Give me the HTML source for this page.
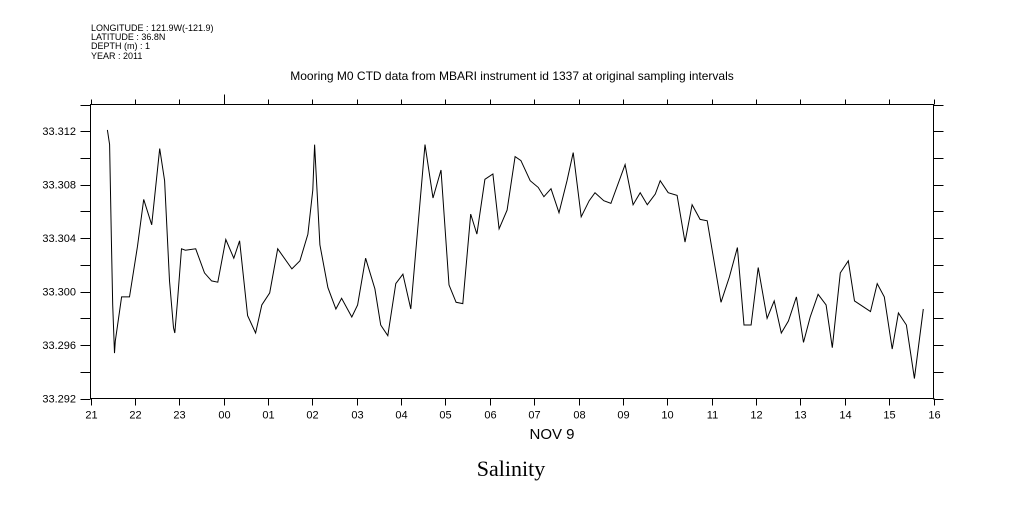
<!DOCTYPE html>
<html><head><meta charset="utf-8"><style>
body{margin:0;background:#fff;}
svg text{font-family:"Liberation Sans",sans-serif;fill:#000;}
</style></head><body>
<svg width="1009" height="504" xmlns="http://www.w3.org/2000/svg">
<g font-size="9">
<text x="91" y="31">LONGITUDE : 121.9W(-121.9)</text>
<text x="91" y="40">LATITUDE : 36.8N</text>
<text x="91" y="49">DEPTH (m) : 1</text>
<text x="91" y="59">YEAR : 2011</text>
</g>
<text x="512" y="80" font-size="12" text-anchor="middle">Mooring M0 CTD data from MBARI instrument id 1337 at original sampling intervals</text>
<g id="axes"></g>
<path id="line" fill="none" stroke="#000" stroke-width="1"/>
<text x="552" y="439" font-size="15" text-anchor="middle">NOV  9</text>
<text x="511" y="476" font-size="22" text-anchor="middle" style="font-family:'Liberation Serif',serif">Salinity</text>
</svg>
<script>
const hours=[0.38,0.43,0.47,0.50,0.54,0.56,0.70,0.88,1.06,1.20,1.38,1.56,1.67,1.78,1.87,1.90,1.96,2.05,2.14,2.37,2.57,2.73,2.87,3.05,3.23,3.36,3.54,3.72,3.86,4.04,4.22,4.54,4.72,4.90,5.01,5.05,5.17,5.35,5.53,5.66,5.89,6.02,6.20,6.41,6.54,6.70,6.88,7.04,7.22,7.54,7.72,7.90,8.08,8.24,8.39,8.57,8.71,8.89,9.07,9.21,9.39,9.57,9.70,9.91,10.09,10.22,10.38,10.56,10.74,10.88,11.06,11.24,11.37,11.57,11.73,12.05,12.23,12.39,12.55,12.73,12.84,13.02,13.22,13.40,13.56,13.74,13.90,14.21,14.40,14.58,14.73,14.89,15.05,15.25,15.41,15.57,15.73,15.91,16.07,16.22,16.40,16.58,16.72,16.90,17.08,17.22,17.58,17.73,17.89,18.07,18.21,18.39,18.57,18.77];
const salinity=[33.3121,33.3110,33.3038,33.2990,33.2954,33.2963,33.2996,33.2996,33.3034,33.3069,33.3050,33.3107,33.3083,33.3008,33.2973,33.2969,33.2993,33.3032,33.3031,33.3032,33.3014,33.3008,33.3007,33.3039,33.3025,33.3038,33.2982,33.2969,33.2990,33.2999,33.3032,33.3017,33.3023,33.3043,33.3076,33.3110,33.3035,33.3003,33.2987,33.2995,33.2981,33.2990,33.3025,33.3002,33.2975,33.2967,33.3006,33.3013,33.2987,33.3110,33.3070,33.3091,33.3005,33.2992,33.2991,33.3058,33.3043,33.3084,33.3088,33.3047,33.3061,33.3101,33.3098,33.3083,33.3078,33.3071,33.3077,33.3059,33.3083,33.3104,33.3056,33.3068,33.3074,33.3068,33.3066,33.3095,33.3065,33.3074,33.3065,33.3073,33.3083,33.3074,33.3072,33.3037,33.3065,33.3054,33.3053,33.2992,33.3011,33.3033,33.2975,33.2975,33.3018,33.2980,33.2993,33.2969,33.2978,33.2996,33.2962,33.2981,33.2998,33.2990,33.2958,33.3014,33.3023,33.2993,33.2985,33.3006,33.2996,33.2957,33.2984,33.2975,33.2935,33.2987];
const xTickLabels=["21","22","23","00","01","02","03","04","05","06","07","08","09","10","11","12","13","14","15","16"];
const yTickLabels=["33.292","33.296","33.300","33.304","33.308","33.312"];
const L=90.5,R=933.5,T=104.5,B=398.5,H0=0,H1=19,V0=33.292,V1=33.314;
const sx=h=>L+(h-H0)/(H1-H0)*(R-L);
const sy=v=>B-(v-V0)/(V1-V0)*(B-T);
const NS="http://www.w3.org/2000/svg";
const ax=document.getElementById('axes');
function mk(tag,attrs,parent){const e=document.createElementNS(NS,tag);for(const k in attrs)e.setAttribute(k,attrs[k]);(parent||ax).appendChild(e);return e;}
const fr=mk('rect',{x:L,y:T,width:R-L,height:B-T,fill:'none',stroke:'#000'});


for(let i=0;i<xTickLabels.length;i++){
  const x=Math.round(sx(i))+0.5;
  const t1=mk('line',{x1:x,x2:x,y1:B,y2:B+7,stroke:'#000'});
  
  
  const t2=mk('line',{x1:x,x2:x,y1:T,y2:T-(xTickLabels[i]==="00"?10:5),stroke:'#000'});
  
  
  const tx=mk('text',{x:x,y:B+20,'font-size':11,'text-anchor':'middle'});
  tx.textContent=xTickLabels[i];
  
  
}
for(let k=0;k<=11;k++){
  const v=V0+k*0.002;const y=Math.round(sy(v))+0.5;
  const a=mk('line',{x1:L-10,x2:L,y1:y,y2:y,stroke:'#000'});
  
  
  const b=mk('line',{x1:R,x2:R+10,y1:y,y2:y,stroke:'#000'});
  
  
}
for(let i=0;i<yTickLabels.length;i++){
  const y=sy(+yTickLabels[i]);
  const tx=mk('text',{x:76,y:y+4,'font-size':11,'text-anchor':'end'});
  tx.textContent=yTickLabels[i];
  
  
}
let d='';
for(let i=0;i<hours.length;i++){d+=(i?'L':'M')+sx(hours[i]).toFixed(1)+','+sy(salinity[i]).toFixed(1);}
document.getElementById('line').setAttribute('d',d);
</script>
</body></html>
